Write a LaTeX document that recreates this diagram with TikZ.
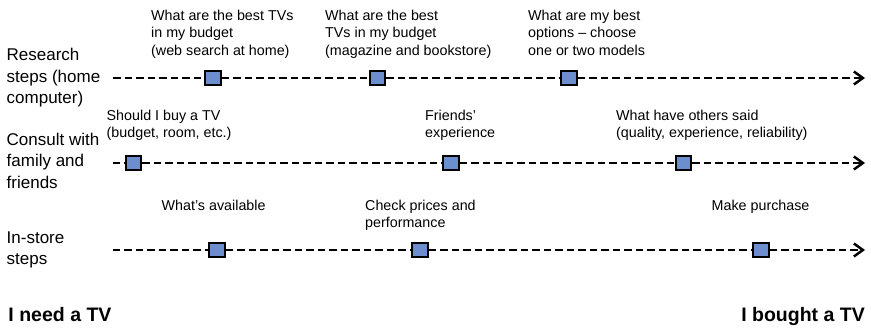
\documentclass[tikz,border=0pt]{standalone}
\usepackage{fontspec}
\setmainfont{Liberation Sans}
\usetikzlibrary{arrows.meta}
\definecolor{sqfill}{RGB}{108,142,207}
\tikzset{
  stepsq/.style={draw=black,line width=2.4pt,fill=sqfill,minimum width=15.5pt,minimum height=14.5pt,inner sep=0pt},
  tline/.style={line width=2.5pt,dash pattern=on 7.5pt off 4pt},
  tarrow/.style={tline,-{Straight Barb[length=9pt,width=13pt]}},
  note/.style={anchor=base west,align=left,inner sep=0pt,font=\fontsize{14.3}{17.5}\selectfont},
  rowlab/.style={anchor=base west,align=left,inner sep=0pt,font=\fontsize{17}{21.5}\selectfont},
  endlab/.style={inner sep=0pt,font=\fontsize{19.5}{22}\selectfont\bfseries}
}
\begin{document}
\begin{tikzpicture}[x=1pt,y=-1pt]
\useasboundingbox (0,0) rectangle (871,327);
% row labels (anchored at the baseline of their last line)
\node[rowlab] (l1) at (6.5,103.5) {Research\\steps (home\\computer)};
\node[rowlab] (l2) at (6.5,188) {Consult with\\family and\\friends};
\node[rowlab] (l3) at (6.5,264.5) {In-store\\steps};
% row 1
\coordinate (r1s) at (113,78);
\coordinate (r1e) at (865,78);
\node[stepsq] (a1) at (213,78) {};
\node[stepsq] (a2) at (377.5,78) {};
\node[stepsq] (a3) at (569,78) {};
\draw[tline] (r1s) -- (a1) -- (a2) -- (a3);
\draw[tarrow] (a3) -- (r1e);
% row 2
\coordinate (r2s) at (112.5,163);
\coordinate (r2e) at (865,163);
\node[stepsq] (b1) at (133.5,163) {};
\node[stepsq] (b2) at (451,163) {};
\node[stepsq] (b3) at (683.5,163) {};
\draw[tline] (r2s) -- (b1) -- (b2) -- (b3);
\draw[tarrow] (b3) -- (r2e);
% row 3
\coordinate (r3s) at (112.5,250);
\coordinate (r3e) at (865,250);
\node[stepsq] (c1) at (217,250) {};
\node[stepsq] (c2) at (420,250) {};
\node[stepsq] (c3) at (761,250) {};
\draw[tline] (r3s) -- (c1) -- (c2) -- (c3);
\draw[tarrow] (c3) -- (r3e);
% notes (anchored at the baseline of their last line)
\node[note] (n1) at (151,55) {What are the best TVs\\in my budget\\(web search at home)};
\node[note] (n2) at (325,55) {What are the best\\TVs in my budget\\(magazine and bookstore)};
\node[note] (n3) at (528,55) {What are my best\\options – choose\\one or two models};
\node[note] (n4) at (106.5,137.5) {Should I buy a TV\\(budget, room, etc.)};
\node[note] (n5) at (425,137.5) {Friends’\\experience};
\node[note] (n6) at (616,137.5) {What have others said\\(quality, experience, reliability)};
\node[note] (n7) at (161.5,210) {What’s available};
\node[note] (n8) at (365,227.5) {Check prices and\\performance};
\node[note] (n9) at (711.5,210) {Make purchase};
% end labels
\node[endlab,anchor=base west] (start) at (8.3,321) {I need a TV};
\node[endlab,anchor=base east] (finish) at (865,321) {I bought a TV};
\end{tikzpicture}
\end{document}
